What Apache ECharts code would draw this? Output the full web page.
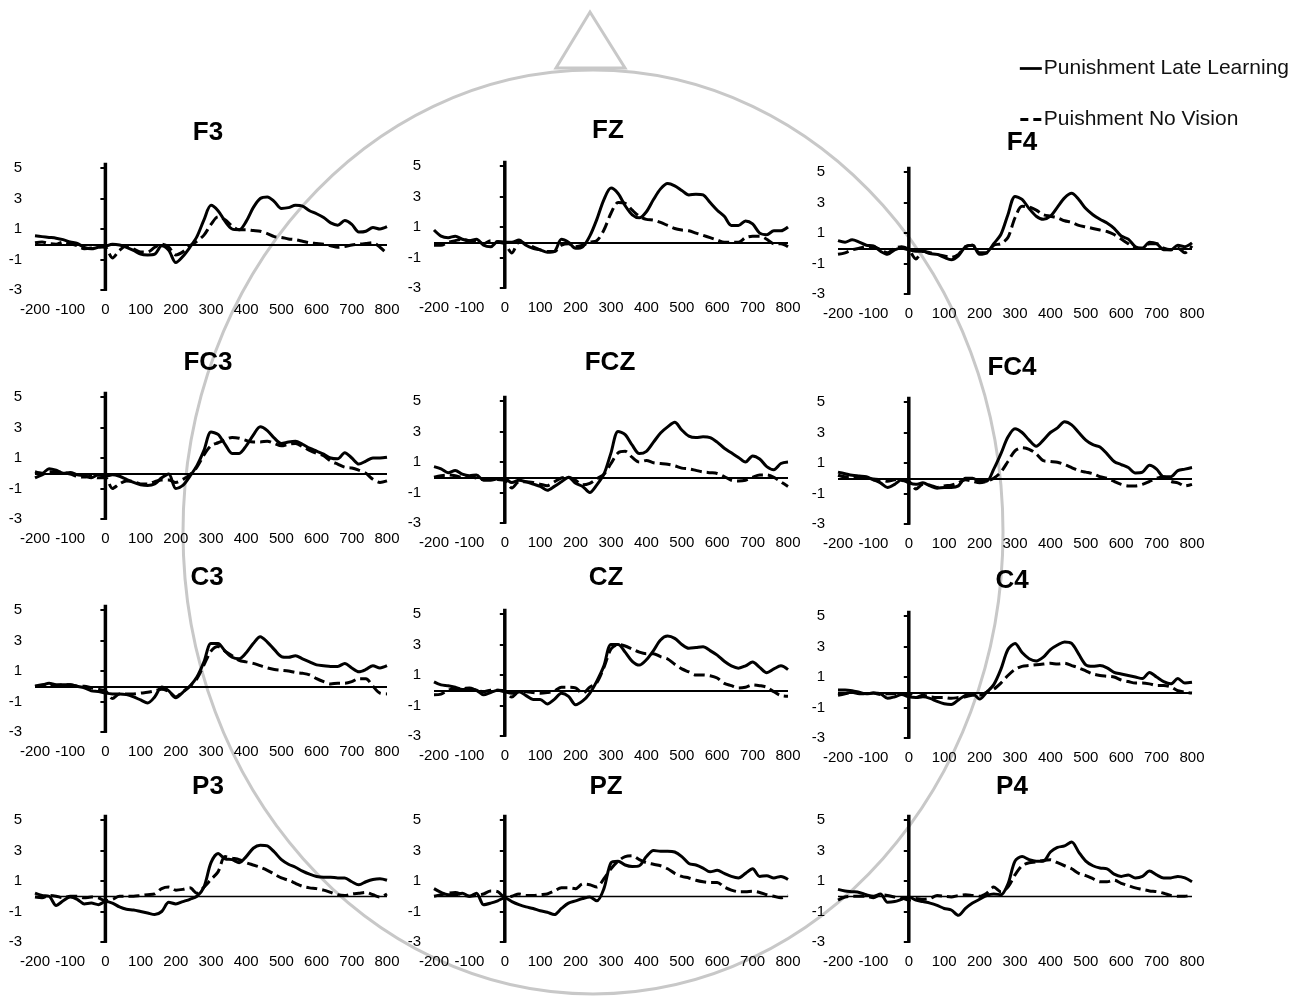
<!DOCTYPE html>
<html><head><meta charset="utf-8">
<script src="https://cdn.jsdelivr.net/npm/echarts@6/dist/echarts.min.js"></script>
<style>html,body{margin:0;padding:0;background:#fff}#c{width:1300px;height:1008px}</style>
</head><body><div id="c"></div>
<script>
const TIMES = [-200,-180,-160,-140,-120,-100,-80,-60,-40,-20,0,20,40,60,80,100,120,140,160,180,200,220,240,260,280,300,320,340,360,380,400,420,440,460,480,500,520,540,560,580,600,620,640,660,680,700,720,740,760,780,800];
const X_TICKS = [-200,-100,0,100,200,300,400,500,600,700,800];
const Y_TICKS = [-3,-1,1,3,5];
const STIM_Y = [5.35,-3.05];
const LATE = 'Punishment Late Learning';
const NOVIS = 'Puishment No Vision';
const ELECTRODES = ['F3','FZ','F4','FC3','FCZ','FC4','C3','CZ','C4','P3','PZ','P4'];

const F3_LATE = [0.55,0.5,0.45,0.4,0.3,0.15,0.05,-0.2,-0.3,-0.2,-0.15,0.0,-0.05,-0.2,-0.4,-0.65,-0.7,-0.65,-0.1,-0.4,-1.2,-0.8,-0.2,0.5,1.6,2.55,2.2,1.5,1.0,0.95,1.5,2.4,3.0,3.1,2.8,2.35,2.4,2.55,2.5,2.2,2.0,1.75,1.4,1.25,1.55,1.3,0.8,0.85,1.1,1.0,1.15];
const F3_NOVIS = [0.1,0.15,0.05,0.0,0.15,0.05,-0.1,-0.3,-0.25,-0.15,-0.2,-0.9,-0.4,-0.1,-0.3,-0.5,-0.5,-0.2,0.0,-0.2,-0.7,-0.5,-0.1,0.2,0.6,1.3,1.8,1.6,1.2,0.95,0.95,0.9,0.85,0.7,0.5,0.45,0.35,0.3,0.2,0.1,0.05,0.0,-0.1,-0.2,-0.15,-0.05,0.0,0.05,0.1,-0.2,-0.6];
const FZ_LATE = [0.8,0.4,0.3,0.4,0.2,0.1,0.2,-0.2,-0.3,0.05,0.0,0.0,0.15,-0.2,-0.4,-0.5,-0.65,-0.6,0.2,0.0,-0.4,-0.3,0.4,1.5,2.8,3.55,3.2,2.4,1.8,1.6,2.0,2.8,3.5,3.85,3.7,3.4,3.1,3.15,3.1,2.6,2.1,1.7,1.1,1.1,1.4,1.2,0.6,0.5,0.75,0.75,1.0];
const FZ_NOVIS = [-0.2,-0.2,0.0,0.1,0.2,0.1,0.1,-0.1,0.1,0.0,-0.1,-0.7,0.0,-0.1,-0.3,-0.5,-0.6,-0.6,-0.2,-0.1,-0.3,-0.2,0.0,0.1,0.8,1.9,2.6,2.55,2.1,1.7,1.5,1.45,1.3,1.1,0.9,0.8,0.75,0.6,0.45,0.3,0.15,0.0,0.0,0.0,0.3,0.4,0.4,0.2,-0.1,-0.1,-0.3];
const F4_LATE = [0.5,0.4,0.55,0.4,0.2,0.15,-0.2,-0.4,-0.1,0.0,-0.1,-0.2,-0.2,-0.35,-0.4,-0.6,-0.75,-0.5,0.1,0.2,-0.4,-0.3,0.3,0.9,2.2,3.4,3.2,2.6,2.1,1.9,2.1,2.7,3.3,3.6,3.2,2.6,2.2,1.9,1.65,1.3,0.8,0.6,0.1,0.0,0.4,0.3,-0.1,-0.1,0.2,0.1,0.35];
const F4_NOVIS = [-0.4,-0.3,-0.1,0.0,0.1,0.1,-0.1,-0.3,0.0,0.1,-0.1,-0.7,-0.2,-0.3,-0.4,-0.5,-0.6,-0.4,0.1,0.2,-0.3,-0.3,0.2,0.3,0.7,2.0,2.75,2.7,2.5,2.2,2.1,2.0,1.8,1.7,1.5,1.4,1.3,1.2,1.1,0.9,0.6,0.3,0.0,0.0,0.3,0.3,0.0,-0.1,0.0,-0.3,0.15];
const FC3_LATE = [0.1,0.0,0.3,0.2,0.0,0.05,-0.1,-0.15,-0.3,-0.1,-0.2,-0.1,-0.2,-0.4,-0.6,-0.75,-0.8,-0.7,-0.3,-0.05,-1.0,-0.8,-0.2,0.5,1.5,2.7,2.55,1.9,1.3,1.3,1.8,2.5,3.05,2.8,2.3,1.95,2.05,2.1,1.9,1.65,1.45,1.25,1.0,0.95,1.35,1.0,0.6,0.8,1.0,1.0,1.05];
const FC3_NOVIS = [-0.3,-0.1,0.1,0.1,0.05,-0.05,-0.2,-0.25,-0.2,-0.3,-0.3,-1.0,-0.7,-0.5,-0.55,-0.7,-0.7,-0.55,-0.45,-0.45,-0.6,-0.4,-0.1,0.4,1.2,1.8,2.0,2.2,2.35,2.3,2.15,2.05,2.05,2.1,1.95,1.8,1.9,1.95,1.75,1.5,1.3,1.15,0.8,0.6,0.4,0.35,0.2,0.0,-0.4,-0.6,-0.5];
const FCZ_LATE = [0.7,0.55,0.3,0.45,0.2,0.1,0.15,-0.2,-0.2,-0.1,-0.1,-0.35,-0.2,-0.3,-0.45,-0.6,-0.85,-0.6,-0.3,0.0,-0.4,-0.6,-1.0,-0.5,0.2,1.6,3.0,2.8,2.1,1.55,1.7,2.3,2.9,3.3,3.6,3.1,2.7,2.6,2.65,2.6,2.3,1.9,1.6,1.3,1.0,1.4,1.2,0.7,0.5,0.9,1.0];
const FCZ_NOVIS = [0.0,0.1,0.15,0.1,0.0,0.05,-0.05,-0.15,-0.1,-0.15,-0.2,-0.7,-0.3,-0.3,-0.35,-0.45,-0.55,-0.3,-0.05,0.0,-0.2,-0.5,-0.4,-0.1,0.2,0.9,1.6,1.7,1.3,1.0,1.1,0.95,0.9,0.85,0.75,0.6,0.55,0.45,0.35,0.3,0.25,0.05,-0.2,-0.25,-0.2,0.0,0.15,0.15,0.0,-0.3,-0.6];
const FC4_LATE = [0.4,0.3,0.2,0.15,0.1,-0.1,-0.3,-0.6,-0.4,-0.1,-0.3,-0.4,-0.3,-0.5,-0.65,-0.6,-0.6,-0.5,0.0,0.0,-0.2,-0.2,0.6,1.6,2.7,3.25,3.0,2.5,2.1,2.5,3.0,3.3,3.7,3.5,3.0,2.5,2.2,2.05,1.6,1.1,0.9,0.7,0.35,0.4,0.85,0.6,0.1,0.1,0.5,0.6,0.7];
const FC4_NOVIS = [0.2,0.1,0.1,0.0,0.0,-0.05,-0.1,-0.2,-0.1,-0.15,-0.2,-0.7,-0.4,-0.45,-0.6,-0.5,-0.45,-0.3,-0.1,-0.2,-0.3,-0.2,0.0,0.4,1.1,1.8,2.0,1.9,1.6,1.15,1.1,1.05,0.9,0.7,0.5,0.4,0.3,0.1,0.0,-0.2,-0.4,-0.5,-0.5,-0.4,-0.2,0.0,0.1,-0.2,-0.3,-0.5,-0.4];
const C3_LATE = [0.0,0.05,0.2,0.1,0.1,0.1,0.0,-0.1,-0.3,-0.35,-0.45,-0.5,-0.5,-0.55,-0.7,-0.9,-1.1,-0.7,-0.05,-0.3,-0.75,-0.4,0.0,0.6,1.6,2.8,2.8,2.3,1.9,1.8,2.2,2.8,3.25,2.9,2.4,1.95,1.9,2.0,1.8,1.6,1.4,1.35,1.3,1.3,1.5,1.2,0.95,1.1,1.35,1.2,1.35];
const C3_NOVIS = [0.0,0.1,0.15,0.05,0.1,0.1,0.0,0.0,-0.1,-0.2,-0.3,-0.8,-0.5,-0.5,-0.5,-0.45,-0.4,-0.3,-0.2,-0.35,-0.7,-0.35,0.0,0.5,1.4,2.3,2.6,2.3,2.0,1.7,1.6,1.5,1.35,1.2,1.1,1.05,1.0,0.9,0.85,0.75,0.5,0.3,0.15,0.2,0.2,0.3,0.5,0.5,0.0,-0.45,-0.5];
const CZ_LATE = [0.55,0.35,0.3,0.2,0.05,0.1,0.0,-0.3,-0.15,0.0,-0.1,-0.2,-0.1,-0.35,-0.6,-0.6,-0.9,-0.6,-0.2,-0.4,-0.95,-0.7,-0.2,0.6,1.6,3.0,3.0,2.5,1.9,1.65,2.0,2.6,3.3,3.55,3.4,3.0,2.75,2.8,2.85,2.6,2.3,1.9,1.6,1.45,1.6,1.85,1.5,1.15,1.4,1.6,1.35];
const CZ_NOVIS = [-0.3,-0.25,0.0,0.1,0.1,0.15,0.0,-0.1,0.0,0.0,-0.05,-0.45,-0.1,-0.1,-0.15,-0.2,-0.15,-0.05,0.2,0.2,0.15,-0.2,0.2,0.5,1.5,2.7,3.0,2.9,2.7,2.5,2.4,2.4,2.2,2.05,1.7,1.4,1.2,1.0,1.0,0.95,0.8,0.45,0.3,0.15,0.2,0.35,0.3,0.2,-0.1,-0.35,-0.4];
const C4_LATE = [0.15,0.15,0.1,0.0,-0.1,-0.05,-0.1,-0.4,-0.3,-0.15,-0.3,-0.35,-0.3,-0.4,-0.6,-0.75,-0.8,-0.5,-0.2,-0.1,-0.45,0.0,0.5,1.5,2.8,3.2,2.6,2.2,2.05,2.3,2.8,3.1,3.3,3.2,2.5,1.8,1.7,1.75,1.6,1.3,1.2,1.1,1.0,0.9,1.3,1.0,0.7,0.55,0.9,0.6,0.65];
const C4_NOVIS = [-0.2,-0.1,0.0,-0.1,-0.1,-0.05,-0.15,-0.1,-0.1,-0.1,-0.1,-0.35,-0.2,-0.3,-0.35,-0.35,-0.4,-0.35,-0.3,-0.2,-0.2,0.0,0.2,0.6,1.1,1.5,1.7,1.75,1.8,1.85,1.9,1.85,1.9,1.75,1.6,1.4,1.2,1.1,1.05,1.0,0.8,0.7,0.6,0.6,0.55,0.45,0.45,0.35,0.1,0.0,-0.05];
const P3_LATE = [0.2,0.05,0.0,-0.6,-0.3,-0.05,-0.2,-0.5,-0.45,-0.55,-0.35,-0.45,-0.7,-0.85,-0.9,-1.0,-1.1,-1.2,-1.0,-0.4,-0.5,-0.35,-0.2,0.0,0.6,2.2,2.8,2.45,2.4,2.2,2.6,3.15,3.35,3.3,2.9,2.4,2.1,1.9,1.65,1.45,1.3,1.25,1.25,1.2,1.2,0.95,0.75,0.95,1.1,1.15,1.05];
const P3_NOVIS = [-0.05,-0.1,0.05,0.0,-0.1,0.0,0.0,-0.1,-0.05,-0.1,-0.3,-0.2,0.0,0.0,0.0,0.05,0.1,0.15,0.5,0.6,0.4,0.45,0.55,0.2,0.6,1.1,1.6,2.6,2.5,2.4,2.2,2.05,1.9,1.7,1.45,1.2,1.05,0.85,0.65,0.55,0.5,0.4,0.25,0.1,0.05,0.15,0.2,0.25,0.1,-0.05,0.15];
const PZ_LATE = [0.5,0.25,0.1,0.1,0.2,0.0,0.2,-0.55,-0.45,-0.3,-0.1,-0.35,-0.55,-0.7,-0.8,-0.95,-1.05,-1.2,-0.8,-0.45,-0.3,-0.15,-0.05,-0.3,0.5,2.2,2.3,2.05,1.95,2.0,2.6,3.0,2.95,2.95,2.9,2.6,2.15,2.05,1.85,1.6,1.7,1.5,1.3,1.2,1.5,1.8,1.3,1.35,1.2,1.3,1.1];
const PZ_NOVIS = [0.0,0.1,0.2,0.25,0.1,0.0,0.05,0.15,0.35,0.3,-0.05,0.0,0.15,0.05,0.05,0.1,0.15,0.35,0.55,0.55,0.5,0.8,0.75,0.6,1.15,1.8,2.3,2.6,2.65,2.4,2.2,2.1,2.0,1.8,1.5,1.3,1.2,1.05,0.95,0.9,0.9,0.6,0.4,0.3,0.3,0.33,0.25,0.1,0.0,-0.1,0.05];
const P4_LATE = [0.45,0.35,0.3,0.25,0.1,0.0,0.15,-0.4,-0.35,-0.2,-0.05,-0.25,-0.35,-0.45,-0.6,-0.8,-0.9,-1.25,-0.8,-0.45,-0.2,0.05,0.15,0.1,0.8,2.3,2.6,2.4,2.3,2.3,2.9,3.2,3.3,3.55,2.9,2.3,2.0,1.85,1.8,1.45,1.3,1.4,1.2,1.3,1.65,1.4,1.2,1.2,1.3,1.2,0.95];
const P4_NOVIS = [-0.25,-0.05,0.0,0.0,0.0,-0.1,0.1,0.05,-0.05,-0.1,-0.25,-0.15,-0.2,-0.15,0.05,0.0,-0.05,0.05,0.1,0.05,0.0,0.2,0.6,0.3,0.6,1.4,2.0,2.2,2.25,2.35,2.4,2.2,2.0,1.8,1.5,1.35,1.15,0.95,0.95,1.05,0.85,0.7,0.55,0.45,0.35,0.3,0.2,0.05,0.0,0.0,0.1];

const LATE_SERIES = [F3_LATE,FZ_LATE,F4_LATE,FC3_LATE,FCZ_LATE,FC4_LATE,C3_LATE,CZ_LATE,C4_LATE,P3_LATE,PZ_LATE,P4_LATE];
const NOVIS_SERIES = [F3_NOVIS,FZ_NOVIS,F4_NOVIS,FC3_NOVIS,FCZ_NOVIS,FC4_NOVIS,C3_NOVIS,CZ_NOVIS,C4_NOVIS,P3_NOVIS,PZ_NOVIS,P4_NOVIS];

// layout (pixels): grid left, grid top, grid width, title centre
const LAYOUT = [
  {left:35, top:168, w:352, tx:208, ty:133},
  {left:434, top:166, w:354, tx:608, ty:131},
  {left:838, top:172, w:354, tx:1022, ty:143},
  {left:35, top:397, w:352, tx:208, ty:363},
  {left:434, top:401, w:354, tx:610, ty:363},
  {left:838, top:402, w:354, tx:1012, ty:368},
  {left:35, top:610, w:352, tx:207, ty:578},
  {left:434, top:614, w:354, tx:606, ty:578},
  {left:838, top:616, w:354, tx:1012, ty:581},
  {left:35, top:820, w:352, tx:208, ty:787},
  {left:434, top:820, w:354, tx:606, ty:787},
  {left:838, top:820, w:354, tx:1012, ty:787}
];
const GRID_H = 122;
const FONT = "'Liberation Sans', Arial, sans-serif";

const chart = echarts.init(document.getElementById('c'), null, {renderer:'canvas'});
const grids=[], xAxes=[], yAxes=[], series=[];
const graphics = [
  {type:'ellipse', z:0, silent:true, shape:{cx:593, cy:532, rx:410, ry:462}, style:{fill:'none', stroke:'#c8c8c8', lineWidth:3}},
  {type:'polygon', z:0, silent:true, shape:{points:[[556,68],[590,12],[625,68]]}, style:{fill:'#fff', stroke:'#c8c8c8', lineWidth:3}}
];

ELECTRODES.forEach((name, i) => {
  const L = LAYOUT[i];
  grids.push({left:L.left, top:L.top, width:L.w, height:GRID_H, containLabel:false});
  xAxes.push({
    type:'value', gridIndex:i, min:X_TICKS[0], max:X_TICKS[X_TICKS.length-1], interval:100,
    axisLine:{show:false}, axisTick:{show:false}, splitLine:{show:false},
    axisLabel:{fontSize:15, color:'#000', margin:12, fontFamily:FONT}
  });
  yAxes.push({
    type:'value', gridIndex:i, min:Y_TICKS[0], max:Y_TICKS[Y_TICKS.length-1], interval:2,
    axisLine:{show:true, lineStyle:{color:'#000', width:2}},
    axisTick:{show:true, length:5, lineStyle:{color:'#000', width:2}},
    splitLine:{show:false},
    axisLabel:{fontSize:15, color:'#000', margin:13, fontFamily:FONT}
  });
  series.push({
    type:'line', name:'stimulus', xAxisIndex:i, yAxisIndex:i, silent:true, clip:false, color:'#000',
    data: STIM_Y.map(v => [0, v]), symbol:'none', lineStyle:{color:'#000', width:3.5}, z:3
  });
  series.push({
    type:'line', name:LATE, xAxisIndex:i, yAxisIndex:i, silent:true, color:'#000',
    data: TIMES.map((t,k) => [t, LATE_SERIES[i][k]]),
    smooth:0.3, symbol:'none', lineStyle:{color:'#000', width:3}, z:4,
    markLine:{silent:true, symbol:'none', label:{show:false}, animation:false,
      lineStyle:{color:'#000', width: i >= 9 ? 1.3 : 2, type:'solid'},
      emphasis:{disabled:true}, data:[{yAxis:0}]}
  });
  series.push({
    type:'line', name:NOVIS, xAxisIndex:i, yAxisIndex:i, silent:true, color:'#000',
    data: TIMES.map((t,k) => [t, NOVIS_SERIES[i][k]]),
    smooth:0.3, symbol:'none', lineStyle:{color:'#000', width:3, type:[11,5]}, z:4
  });
  graphics.push({type:'text', z:5, silent:true, x:L.tx, y:L.ty,
    style:{text:name, fontSize:26, fontWeight:'bold', fontFamily:FONT, fill:'#000', align:'center', verticalAlign:'middle'}});
});

chart.setOption({
  animation:false,
  backgroundColor:'#fff',
  grid:grids, xAxis:xAxes, yAxis:yAxes, series:series,
  graphic:graphics,
  legend:{
    data:[
      {name:LATE, icon:'path://M0,0H24V3H0Z'},
      {name:NOVIS, icon:'path://M0,0H8V3H0ZM13,0H21V3H13Z'}
    ],
    orient:'vertical', right:6, top:53, itemWidth:22, itemHeight:3, itemGap:30,
    selectedMode:false,
    itemStyle:{color:'#000', borderWidth:0},
    textStyle:{fontSize:21, color:'#111', fontFamily:FONT, padding:[0,0,0,-3]}
  }
});
</script>
</body></html>
